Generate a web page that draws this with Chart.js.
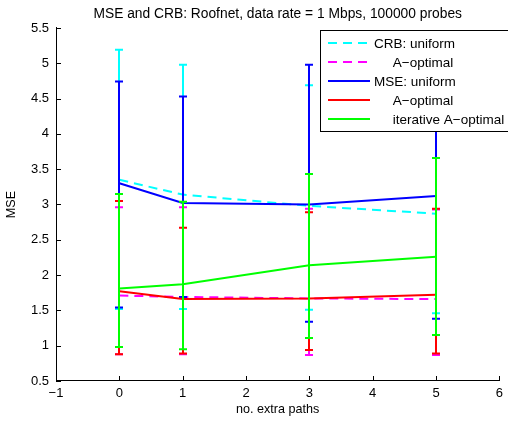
<!DOCTYPE html>
<html>
<head>
<meta charset="utf-8">
<script src="https://cdn.jsdelivr.net/npm/chart.js@4.4.0/dist/chart.umd.min.js"></script>
<style>
  html, body { margin: 0; padding: 0; background: #fff; }
  canvas { display: block; }
</style>
</head>
<body>
<canvas id="myChart" width="508" height="423"></canvas>
<script>
// number of extra paths on the x axis
const extraPaths = [0, 1, 3, 5];

// CRB, uniform probing
const crbUniform = [3.35, 3.14, 2.98, 2.87];
const crbUniformLow = [1.52, 1.52, 1.51, 1.46];
const crbUniformHigh = [5.19, 4.98, 4.69, 4.3];

// CRB, A-optimal probing
const crbAopt = [1.71, 1.69, 1.67, 1.66];
const crbAoptLow = [0.88, 0.88, 0.87, 0.87];
const crbAoptHigh = [2.96, 2.96, 2.94, 2.93];

// MSE, uniform probing
const mseUniform = [3.3, 3.02, 3.0, 3.12];
const mseUniformLow = [1.54, 1.69, 1.34, 1.38];
const mseUniformHigh = [4.74, 4.53, 4.98, 4.85];

// MSE, A-optimal probing
const mseAopt = [1.77, 1.66, 1.67, 1.72];
const mseAoptLow = [0.88, 0.89, 0.94, 0.89];
const mseAoptHigh = [3.05, 2.67, 2.89, 2.94];

// MSE, iterative A-optimal probing
const mseIter = [1.81, 1.87, 2.14, 2.26];
const mseIterLow = [0.98, 0.95, 1.11, 1.15];
const mseIterHigh = [3.15, 3.04, 3.43, 3.66];

const xTicks = [-1, 0, 1, 2, 3, 4, 5, 6];
const yTicks = [0.5, 1, 1.5, 2, 2.5, 3, 3.5, 4, 4.5, 5, 5.5];

const legendLabels = [
  "CRB: uniform",
  "     A\u2212optimal",
  "MSE: uniform",
  "     A\u2212optimal",
  "     iterative A\u2212optimal",
];

const FONT = "'Liberation Sans', Arial, Helvetica, sans-serif";
const tickFont = { family: FONT, size: 13, weight: "normal" };
const labelFont = { family: FONT, size: 12.6, weight: "normal" };
const titleFont = { family: FONT, size: 13.8, weight: "normal" };

const toPoints = (ys) => ys.map((y, i) => ({ x: extraPaths[i], y }));
const minus = (v) => String(v).replace("-", "\u2212");

const series = [
  { data: crbUniform, low: crbUniformLow, high: crbUniformHigh, color: "#00ffff", dash: [9, 6] },
  { data: crbAopt, low: crbAoptLow, high: crbAoptHigh, color: "#ff00ff", dash: [9, 6] },
  { data: mseUniform, low: mseUniformLow, high: mseUniformHigh, color: "#0000ff", dash: [] },
  { data: mseAopt, low: mseAoptLow, high: mseAoptHigh, color: "#ff0000", dash: [] },
  { data: mseIter, low: mseIterLow, high: mseIterHigh, color: "#00ff00", dash: [] },
];

// error bars, drawn right after each dataset's own line
const errorBars = {
  id: "errorBars",
  afterDatasetDraw(chart, args) {
    const s = series[args.index];
    const { ctx } = chart;
    const xs = chart.scales.x;
    const ys = chart.scales.y;
    ctx.save();
    ctx.strokeStyle = s.color;
    ctx.lineWidth = 2;
    ctx.setLineDash([]);
    s.data.forEach((v, i) => {
      const px = Math.round(xs.getPixelForValue(extraPaths[i]));
      const lo = ys.getPixelForValue(s.low[i]);
      const hi = ys.getPixelForValue(s.high[i]);
      ctx.beginPath();
      ctx.moveTo(px, lo);
      ctx.lineTo(px, hi);
      ctx.moveTo(px - 4, lo);
      ctx.lineTo(px + 4, lo);
      ctx.moveTo(px - 4, hi);
      ctx.lineTo(px + 4, hi);
      ctx.stroke();
    });
    ctx.restore();
  },
};

// inward tick marks + legend box
const decorations = {
  id: "decorations",
  afterDraw(chart) {
    const { ctx, chartArea } = chart;
    const xs = chart.scales.x;
    const ys = chart.scales.y;
    ctx.save();
    ctx.strokeStyle = "#000";
    ctx.lineWidth = 1;
    ctx.beginPath();
    xTicks.forEach((t) => {
      const px = Math.round(xs.getPixelForValue(t)) + 0.5;
      ctx.moveTo(px, chartArea.bottom);
      ctx.lineTo(px, chartArea.bottom - 5);
    });
    yTicks.forEach((t) => {
      const py = Math.round(ys.getPixelForValue(t)) + 0.5;
      ctx.moveTo(chartArea.left, py);
      ctx.lineTo(chartArea.left + 5, py);
    });
    ctx.stroke();

    // legend
    const box = { left: 320.5, top: 30.5, right: 520, bottom: 131.5 };
    ctx.fillStyle = "#fff";
    ctx.fillRect(box.left, box.top, box.right - box.left, box.bottom - box.top);
    ctx.strokeRect(box.left, box.top, box.right - box.left, box.bottom - box.top);
    ctx.font = "13.5px " + FONT;
    ctx.textBaseline = "middle";
    ctx.textAlign = "left";
    series.forEach((s, i) => {
      const y = 43 + i * 19;
      ctx.strokeStyle = s.color;
      ctx.lineWidth = 2;
      ctx.setLineDash(s.dash);
      ctx.beginPath();
      ctx.moveTo(328, y);
      ctx.lineTo(370, y);
      ctx.stroke();
      ctx.setLineDash([]);
      ctx.fillStyle = "#000";
      ctx.fillText(legendLabels[i], 374, y + 1);
    });
    ctx.restore();
  },
};

const chart = new Chart(document.getElementById("myChart"), {
  type: "line",
  data: {
    datasets: series.map((s, i) => ({
      label: legendLabels[i].trim(),
      data: toPoints(s.data),
      borderColor: s.color,
      borderWidth: 2,
      borderDash: s.dash,
      pointRadius: 0,
      tension: 0,
      fill: false,
      order: series.length - i,
    })),
  },
  options: {
    responsive: false,
    animation: false,
    layout: { padding: { top: 0, right: 5, left: 0, bottom: 0 } },
    plugins: {
      legend: { display: false },
      tooltip: { enabled: false },
      title: {
        display: true,
        fullSize: false,
        text: "MSE and CRB: Roofnet, data rate = 1 Mbps, 100000 probes",
        color: "#000",
        font: titleFont,
        padding: { top: 6, bottom: 5.4 },
      },
    },
    scales: {
      x: {
        type: "linear",
        min: -1,
        max: 6,
        afterBuildTicks: (s) => { s.ticks = xTicks.map((v) => ({ value: v })); },
        ticks: { color: "#000", font: tickFont, padding: 5, maxRotation: 0, callback: (v) => minus(v) },
        grid: { drawOnChartArea: false, drawTicks: false },
        border: { color: "#000", width: 1 },
        title: { display: true, text: "no. extra paths", color: "#000", font: labelFont, padding: { top: 0, bottom: 6 } },
        afterFit: (s) => { s.height = 42; },
      },
      y: {
        type: "linear",
        min: 0.5,
        max: 5.5,
        afterBuildTicks: (s) => { s.ticks = yTicks.map((v) => ({ value: v })); },
        ticks: { color: "#000", font: tickFont, padding: 7, callback: (v) => minus(v) },
        grid: { drawOnChartArea: false, drawTicks: false },
        border: { color: "#000", width: 1 },
        title: { display: true, text: "MSE", color: "#000", font: labelFont, padding: { top: 4, bottom: 0 } },
        afterFit: (s) => { s.width = 56; },
      },
    },
  },
  plugins: [errorBars, decorations],
});
</script>
</body>
</html>
